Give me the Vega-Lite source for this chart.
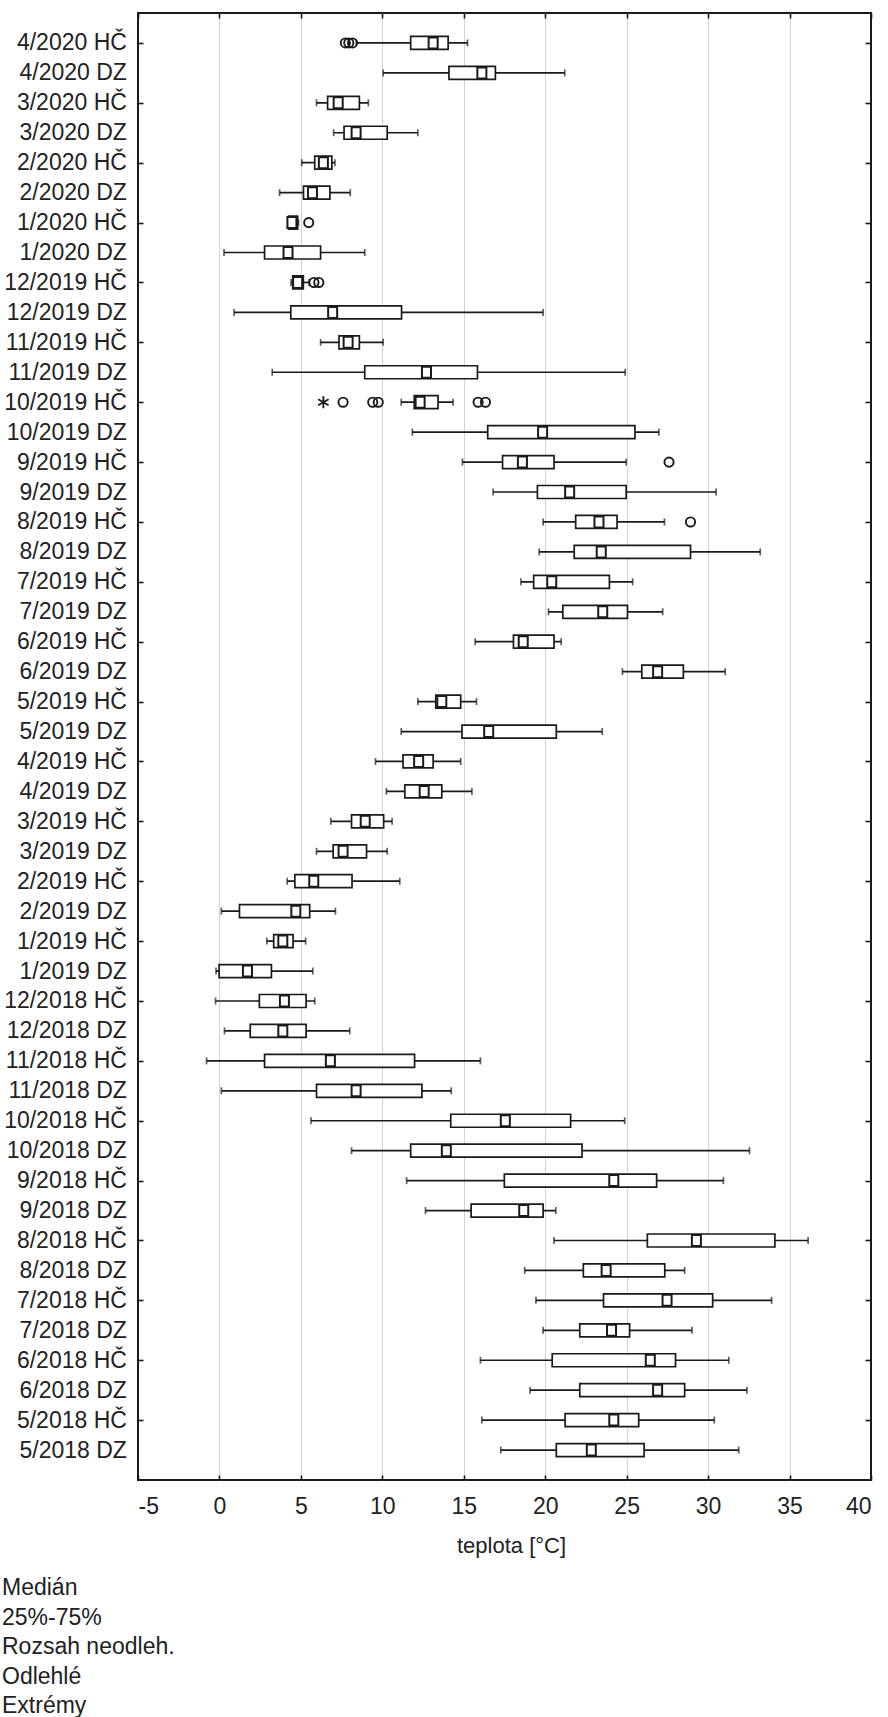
{
  "$schema": "https://vega.github.io/schema/vega-lite/v6.json",
  "width": 733,
  "height": 1467,
  "autosize": {"type": "none"},
  "padding": {"left": 138, "top": 13, "right": 17, "bottom": 237},
  "background": "white",
  "config": {
    "view": {"stroke": "#1a1a1a", "strokeWidth": 2},
    "font": "Liberation Sans",
    "axis": {
      "labelFont": "Liberation Sans",
      "labelFontSize": 23,
      "labelColor": "#222222",
      "titleFont": "Liberation Sans",
      "tickColor": "#1a1a1a",
      "tickWidth": 1.6,
      "domain": false
    },
    "legend": {
      "labelFont": "Liberation Sans"
    }
  },
  "datasets": {
    "boxes": [
      {"label": "4/2020 HČ", "lo": 8.40, "q1": 11.74, "med": 13.12, "q3": 14.04, "hi": 15.23},
      {"label": "4/2020 DZ", "lo": 10.05, "q1": 14.09, "med": 16.11, "q3": 16.94, "hi": 21.20},
      {"label": "3/2020 HČ", "lo": 5.96, "q1": 6.64, "med": 7.29, "q3": 8.59, "hi": 9.14},
      {"label": "3/2020 DZ", "lo": 7.01, "q1": 7.65, "med": 8.39, "q3": 10.30, "hi": 12.18},
      {"label": "2/2020 HČ", "lo": 5.05, "q1": 5.85, "med": 6.38, "q3": 6.90, "hi": 7.09},
      {"label": "2/2020 DZ", "lo": 3.69, "q1": 5.16, "med": 5.71, "q3": 6.78, "hi": 8.03},
      {"label": "1/2020 HČ", "lo": 4.20, "q1": 4.25, "med": 4.45, "q3": 4.80, "hi": 4.85},
      {"label": "1/2020 DZ", "lo": 0.28, "q1": 2.77, "med": 4.21, "q3": 6.21, "hi": 8.92},
      {"label": "12/2019 HČ", "lo": 4.40, "q1": 4.50, "med": 4.80, "q3": 5.15, "hi": 5.50},
      {"label": "12/2019 DZ", "lo": 0.90, "q1": 4.38, "med": 6.95, "q3": 11.18, "hi": 19.87},
      {"label": "11/2019 HČ", "lo": 6.21, "q1": 7.34, "med": 7.90, "q3": 8.59, "hi": 10.05},
      {"label": "11/2019 DZ", "lo": 3.24, "q1": 8.92, "med": 12.71, "q3": 15.84, "hi": 24.91},
      {"label": "10/2019 HČ", "lo": 11.16, "q1": 11.96, "med": 12.32, "q3": 13.42, "hi": 14.34},
      {"label": "10/2019 DZ", "lo": 11.84, "q1": 16.47, "med": 19.84, "q3": 25.51, "hi": 26.98},
      {"label": "9/2019 HČ", "lo": 14.92, "q1": 17.38, "med": 18.60, "q3": 20.54, "hi": 24.97},
      {"label": "9/2019 DZ", "lo": 16.80, "q1": 19.52, "med": 21.50, "q3": 24.97, "hi": 30.49},
      {"label": "8/2019 HČ", "lo": 19.87, "q1": 21.87, "med": 23.30, "q3": 24.41, "hi": 27.32},
      {"label": "8/2019 DZ", "lo": 19.63, "q1": 21.78, "med": 23.44, "q3": 28.92, "hi": 33.20},
      {"label": "7/2019 HČ", "lo": 18.51, "q1": 19.29, "med": 20.40, "q3": 23.94, "hi": 25.37},
      {"label": "7/2019 DZ", "lo": 20.20, "q1": 21.08, "med": 23.53, "q3": 25.05, "hi": 27.21},
      {"label": "6/2019 HČ", "lo": 15.70, "q1": 18.05, "med": 18.65, "q3": 20.54, "hi": 20.98},
      {"label": "6/2019 DZ", "lo": 24.74, "q1": 25.93, "med": 26.90, "q3": 28.48, "hi": 31.05},
      {"label": "5/2019 HČ", "lo": 12.18, "q1": 13.28, "med": 13.65, "q3": 14.81, "hi": 15.78},
      {"label": "5/2019 DZ", "lo": 11.16, "q1": 14.89, "med": 16.53, "q3": 20.68, "hi": 23.50},
      {"label": "4/2019 HČ", "lo": 9.58, "q1": 11.27, "med": 12.23, "q3": 13.12, "hi": 14.81},
      {"label": "4/2019 DZ", "lo": 10.25, "q1": 11.38, "med": 12.57, "q3": 13.65, "hi": 15.50},
      {"label": "3/2019 HČ", "lo": 6.84, "q1": 8.11, "med": 8.95, "q3": 10.08, "hi": 10.60},
      {"label": "3/2019 DZ", "lo": 5.96, "q1": 6.98, "med": 7.59, "q3": 9.03, "hi": 10.30},
      {"label": "2/2019 HČ", "lo": 4.16, "q1": 4.63, "med": 5.79, "q3": 8.14, "hi": 11.07},
      {"label": "2/2019 DZ", "lo": 0.12, "q1": 1.23, "med": 4.69, "q3": 5.54, "hi": 7.12},
      {"label": "1/2019 HČ", "lo": 2.91, "q1": 3.33, "med": 3.89, "q3": 4.52, "hi": 5.29},
      {"label": "1/2019 DZ", "lo": -0.21, "q1": -0.02, "med": 1.72, "q3": 3.19, "hi": 5.73},
      {"label": "12/2018 HČ", "lo": -0.24, "q1": 2.45, "med": 3.99, "q3": 5.32, "hi": 5.85},
      {"label": "12/2018 DZ", "lo": 0.31, "q1": 1.89, "med": 3.89, "q3": 5.32, "hi": 8.00},
      {"label": "11/2018 HČ", "lo": -0.79, "q1": 2.77, "med": 6.81, "q3": 11.98, "hi": 16.02},
      {"label": "11/2018 DZ", "lo": 0.12, "q1": 5.96, "med": 8.39, "q3": 12.43, "hi": 14.23},
      {"label": "10/2018 HČ", "lo": 5.62, "q1": 14.20, "med": 17.55, "q3": 21.56, "hi": 24.88},
      {"label": "10/2018 DZ", "lo": 8.11, "q1": 11.74, "med": 13.93, "q3": 22.26, "hi": 32.54},
      {"label": "9/2018 HČ", "lo": 11.49, "q1": 17.49, "med": 24.21, "q3": 26.84, "hi": 30.94},
      {"label": "9/2018 DZ", "lo": 12.65, "q1": 15.45, "med": 18.68, "q3": 19.87, "hi": 20.65},
      {"label": "8/2018 HČ", "lo": 20.54, "q1": 26.27, "med": 29.28, "q3": 34.10, "hi": 36.14},
      {"label": "8/2018 DZ", "lo": 18.74, "q1": 22.34, "med": 23.74, "q3": 27.34, "hi": 28.56},
      {"label": "7/2018 HČ", "lo": 19.43, "q1": 23.58, "med": 27.48, "q3": 30.28, "hi": 33.90},
      {"label": "7/2018 DZ", "lo": 19.87, "q1": 22.12, "med": 24.07, "q3": 25.18, "hi": 29.01},
      {"label": "6/2018 HČ", "lo": 16.02, "q1": 20.43, "med": 26.45, "q3": 28.00, "hi": 31.27},
      {"label": "6/2018 DZ", "lo": 19.07, "q1": 22.12, "med": 26.90, "q3": 28.56, "hi": 32.38},
      {"label": "5/2018 HČ", "lo": 16.11, "q1": 21.22, "med": 24.21, "q3": 25.74, "hi": 30.38},
      {"label": "5/2018 DZ", "lo": 17.27, "q1": 20.68, "med": 22.83, "q3": 26.07, "hi": 31.88}
    ],
    "outl": [
      {"label": "4/2020 HČ", "v": 7.73, "kind": "o"},
      {"label": "4/2020 HČ", "v": 7.94, "kind": "o"},
      {"label": "4/2020 HČ", "v": 8.17, "kind": "o"},
      {"label": "1/2020 HČ", "v": 5.48, "kind": "o"},
      {"label": "12/2019 HČ", "v": 5.80, "kind": "o"},
      {"label": "12/2019 HČ", "v": 6.10, "kind": "o"},
      {"label": "10/2019 HČ", "v": 6.38, "kind": "e"},
      {"label": "10/2019 HČ", "v": 7.59, "kind": "o"},
      {"label": "10/2019 HČ", "v": 9.41, "kind": "o"},
      {"label": "10/2019 HČ", "v": 9.75, "kind": "o"},
      {"label": "10/2019 HČ", "v": 15.88, "kind": "o"},
      {"label": "10/2019 HČ", "v": 16.33, "kind": "o"},
      {"label": "9/2019 HČ", "v": 27.60, "kind": "o"},
      {"label": "8/2019 HČ", "v": 28.92, "kind": "o"}
    ],
    "leg": [
      {"lab": "Medián"},
      {"lab": "25%-75%"},
      {"lab": "Rozsah neodleh."},
      {"lab": "Odlehlé"},
      {"lab": "Extrémy"}
    ]
  },
  "layer": [
    {
      "data": {"name": "boxes"},
      "mark": {"type": "rule", "color": "#1a1a1a", "strokeWidth": 1.7},
      "encoding": {
        "x": {
          "field": "lo", "type": "quantitative",
          "scale": {"domain": [-5, 40], "nice": false, "zero": false},
          "axis": {
            "orient": "bottom",
            "values": [-5, 0, 5, 10, 15, 20, 25, 30, 35, 40],
            "labelExpr": "toString(datum.value)",
            "grid": true,
            "gridColor": {"condition": {"test": "datum.value == -5 || datum.value == 40", "value": "rgba(0,0,0,0)"}, "value": "#d2d2d2"},
            "gridWidth": 1,
            "tickSize": -5,
            "labelPadding": 20,
            "labelFontSize": 23,
            "title": "teplota [°C]",
            "titleFontSize": 22,
            "titleFontWeight": "normal",
            "titleColor": "#222222",
            "titleX": 373,
            "titleY": 72,
            "titleAlign": "center",
            "titleBaseline": "alphabetic"
          }
        },
        "x2": {"field": "hi"},
        "y": {
          "field": "label", "type": "nominal",
          "scale": {
            "type": "point", "padding": 1,
            "domain": ["4/2020 HČ", "4/2020 DZ", "3/2020 HČ", "3/2020 DZ", "2/2020 HČ", "2/2020 DZ", "1/2020 HČ", "1/2020 DZ", "12/2019 HČ", "12/2019 DZ", "11/2019 HČ", "11/2019 DZ", "10/2019 HČ", "10/2019 DZ", "9/2019 HČ", "9/2019 DZ", "8/2019 HČ", "8/2019 DZ", "7/2019 HČ", "7/2019 DZ", "6/2019 HČ", "6/2019 DZ", "5/2019 HČ", "5/2019 DZ", "4/2019 HČ", "4/2019 DZ", "3/2019 HČ", "3/2019 DZ", "2/2019 HČ", "2/2019 DZ", "1/2019 HČ", "1/2019 DZ", "12/2018 HČ", "12/2018 DZ", "11/2018 HČ", "11/2018 DZ", "10/2018 HČ", "10/2018 DZ", "9/2018 HČ", "9/2018 DZ", "8/2018 HČ", "8/2018 DZ", "7/2018 HČ", "7/2018 DZ", "6/2018 HČ", "6/2018 DZ", "5/2018 HČ", "5/2018 DZ"]
          },
          "axis": {
            "orient": "left",
            "title": null,
            "grid": false,
            "tickSize": -5,
            "tickOpacity": {"condition": {"test": "indexof(datum.value, 'HČ') >= 0", "value": 1}, "value": 0},
            "labelPadding": 16.6,
            "labelFontSize": 23
          }
        }
      }
    },
    {
      "data": {"name": "boxes"},
      "mark": {"type": "tick", "color": "#1a1a1a", "size": 7, "thickness": 1.7, "orient": "vertical"},
      "encoding": {
        "x": {"field": "lo", "type": "quantitative", "axis": null},
        "y": {"field": "label", "type": "nominal", "axis": null}
      }
    },
    {
      "data": {"name": "boxes"},
      "mark": {"type": "tick", "color": "#1a1a1a", "size": 7, "thickness": 1.7, "orient": "vertical"},
      "encoding": {
        "x": {"field": "hi", "type": "quantitative", "axis": null},
        "y": {"field": "label", "type": "nominal", "axis": null}
      }
    },
    {
      "data": {"name": "boxes"},
      "mark": {"type": "bar", "fill": "white", "stroke": "#1a1a1a", "strokeWidth": 1.7, "size": 13, "orient": "horizontal"},
      "encoding": {
        "x": {
          "field": "q1", "type": "quantitative",
          "axis": {
            "orient": "top",
            "values": [-5, 0, 5, 10, 15, 20, 25, 30, 35, 40],
            "labels": false,
            "grid": false,
            "tickSize": -5,
            "title": null
          }
        },
        "x2": {"field": "q3"},
        "y": {
          "field": "label", "type": "nominal",
          "axis": {
            "orient": "right",
            "labels": false,
            "grid": false,
            "title": null,
            "tickSize": -6,
            "tickOpacity": {"condition": {"test": "indexof(datum.value, 'HČ') >= 0", "value": 1}, "value": 0}
          }
        }
      }
    },
    {
      "data": {"name": "boxes"},
      "mark": {"type": "point", "shape": "M-0.82,-1H0.82V1H-0.82Z", "size": 121, "filled": true, "fill": "white", "stroke": "#1a1a1a", "strokeWidth": 2, "opacity": 1},
      "encoding": {
        "x": {"field": "med", "type": "quantitative", "axis": null},
        "y": {"field": "label", "type": "nominal", "axis": null}
      }
    },
    {
      "data": {"name": "outl"},
      "transform": [{"filter": "datum.kind == 'o'"}],
      "mark": {"type": "point", "shape": "circle", "size": 85, "filled": false, "stroke": "#1a1a1a", "strokeWidth": 1.9, "opacity": 1},
      "encoding": {
        "x": {"field": "v", "type": "quantitative", "axis": null},
        "y": {"field": "label", "type": "nominal", "axis": null}
      }
    },
    {
      "data": {"name": "outl"},
      "transform": [{"filter": "datum.kind == 'e'"}],
      "mark": {"type": "point", "shape": "M0,-1V1M-0.87,-0.5L0.87,0.5M-0.87,0.5L0.87,-0.5", "size": 144, "filled": false, "stroke": "#1a1a1a", "strokeWidth": 1.8, "opacity": 1},
      "encoding": {
        "x": {"field": "v", "type": "quantitative", "axis": null},
        "y": {"field": "label", "type": "nominal", "axis": null}
      }
    },
    {
      "data": {"name": "leg"},
      "mark": {"type": "point", "opacity": 0},
      "encoding": {
        "shape": {
          "field": "lab", "type": "nominal",
          "scale": {"domain": ["Medián", "25%-75%", "Rozsah neodleh.", "Odlehlé", "Extrémy"]},
          "legend": {
            "orient": "none",
            "legendX": -159,
            "legendY": 1563.5,
            "title": null,
            "padding": 0,
            "symbolOpacity": 0,
            "symbolSize": 0,
            "symbolStrokeWidth": 0,
            "labelOffset": 0,
            "labelFontSize": 23,
            "labelColor": "#222222",
            "labelLimit": 0,
            "rowPadding": 5.5
          }
        }
      }
    }
  ],
  "resolve": {"axis": {"x": "independent", "y": "independent"}}
}
